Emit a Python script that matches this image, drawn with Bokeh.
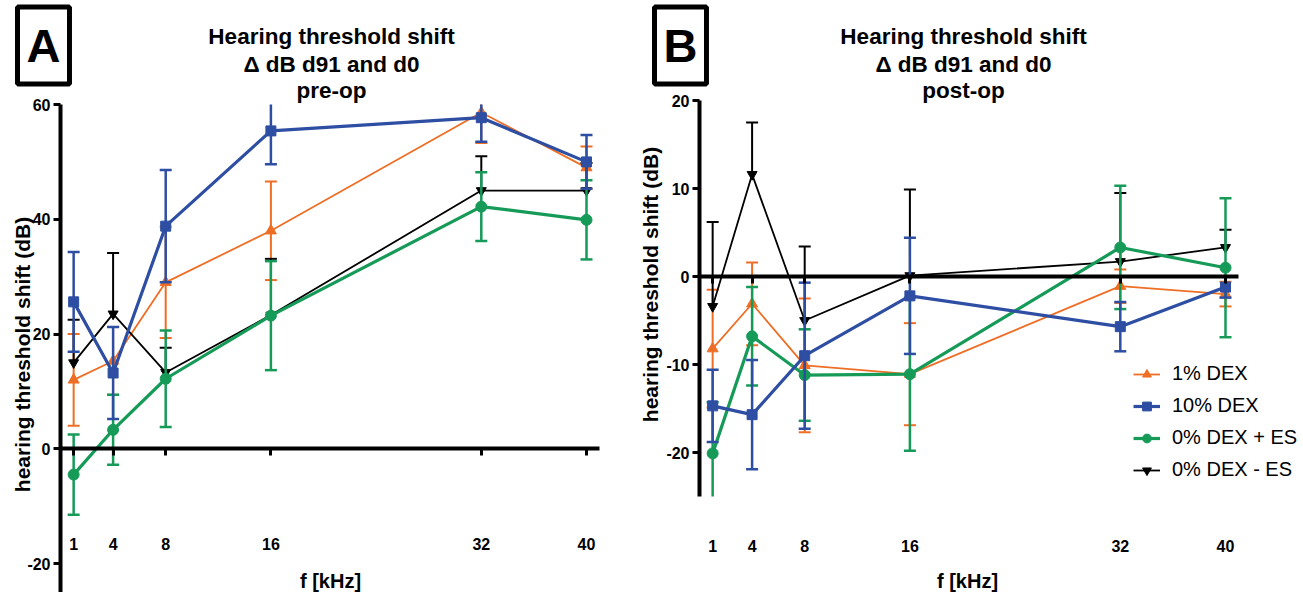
import math
from bokeh.plotting import figure
from bokeh.layouts import row
from bokeh.models import Label, FixedTicker, Legend, LegendItem, ColumnDataSource, LinearAxis
from bokeh.embed import file_html
from bokeh.resources import INLINE

# ---------------- data ----------------
freq = [1, 4, 8, 16, 32, 40]
freq_labels = ["1", "4", "8", "16", "32", "40"]
series_names = ["1% DEX", "10% DEX", "0% DEX + ES", "0% DEX - ES"]

# Panel A: pre-op (mean, SEM)
a_dex1 = [12.0, 15.3, 29.0, 38.0, 58.6, 49.0]
a_dex1_err = [8.0, 5.9, 9.7, 8.6, 5.3, 3.7]
a_dex10 = [25.6, 13.2, 38.8, 55.4, 57.7, 50.0]
a_dex10_err = [8.7, 8.0, 9.8, 5.8, 4.2, 4.7]
a_es_pos = [-4.5, 3.3, 12.2, 23.2, 42.2, 39.9]
a_es_pos_err = [7.0, 6.1, 8.4, 9.5, 6.0, 6.9]
a_es_neg = [15.0, 23.5, 13.3, 23.3, 45.0, 45.0]
a_es_neg_err = [7.5, 10.6, 4.3, 9.8, 6.0, 4.8]

# Panel B: post-op (mean, SEM)
b_dex1 = [-8.2, -3.1, -10.1, -11.1, -1.1, -2.0]
b_dex1_err = [6.7, 4.7, 7.6, 5.8, 1.9, 1.4]
b_dex10 = [-14.7, -15.7, -9.0, -2.2, -5.7, -1.2]
b_dex10_err = [4.1, 6.2, 8.3, 6.6, 2.8, 1.2]
b_es_pos = [-20.1, -6.8, -11.2, -11.1, 3.3, 1.0]
b_es_pos_err = [5.8, 5.6, 5.2, 8.7, 7.0, 7.9]
b_es_neg = [-3.4, 11.6, -5.0, 0.1, 1.7, 3.3]
b_es_neg_err = [9.6, 5.9, 8.4, 9.8, 7.8, 2.0]

a_yticks = [60, 40, 20, 0, -20]
b_yticks = [20, 10, 0, -10, -20]

# ---------------- style ----------------
FONT = "Liberation Sans"
ORANGE = "#EF6E25"
BLUE = "#2D4EA2"
GREEN = "#169A58"
BLACK = "#000000"

styles = [
    dict(color=ORANGE, marker="triangle", size=11, lw=1.8, elw=2.0, both=True),
    dict(color=BLUE, marker="square", size=10, lw=3.2, elw=2.5, both=True),
    dict(color=GREEN, marker="circle", size=11, lw=3.2, elw=2.5, both=True),
    dict(color=BLACK, marker="inverted_triangle", size=10, lw=1.8, elw=2.0, both=False),
]
draw_order = [0, 3, 2, 1]

XS = 13.15  # px per kHz
HEIGHT = 592


def make_panel(width, org_x, top_px, y_top, y_px, axis_min, yticks,
               series, letter, title3, letter_c, title_cx, ylab_c, tick_y_px,
               xlab_c, legend=False):
    # frame covers whole figure; org_x = pixel of x=0, top_px = pixel of y_top
    x0 = -org_x / XS
    x1 = (width - org_x) / XS
    y1 = y_top + top_px / y_px
    y0 = y_top - (HEIGHT - top_px) / y_px
    p = figure(width=width, height=HEIGHT, output_backend="svg",
               toolbar_location=None, x_axis_location=None, y_axis_location=None,
               x_range=(x0, x1), y_range=(y0, y1), min_border=0)
    p.outline_line_color = None
    p.xgrid.visible = False
    p.ygrid.visible = False
    p.background_fill_color = "white"
    p.border_fill_color = "white"

    def dx(px):
        return (px - org_x) / XS

    def dy(py):
        return y_top - (py - top_px) / y_px

    # y axis at x = 0
    yax = LinearAxis(fixed_location=0, ticker=FixedTicker(ticks=yticks),
                     bounds=(axis_min, y_top))
    yax.major_label_overrides = {t: str(t) for t in yticks}
    yax.axis_line_width = 4
    yax.major_tick_line_width = 3
    yax.major_tick_out = 7
    yax.major_tick_in = 0
    yax.minor_tick_line_color = None
    yax.major_label_text_font = FONT
    yax.major_label_text_font_style = "bold"
    yax.major_label_text_font_size = "16px"
    yax.major_label_text_color = "black"
    yax.major_label_standoff = 3
    p.add_layout(yax, "left")

    # x axis at y = 0
    tick_pos = -dy(tick_y_px) * y_px  # px below axis line
    xax = LinearAxis(fixed_location=0, ticker=FixedTicker(ticks=freq), bounds=(0, 41))
    xax.major_label_overrides = {f: s for f, s in zip(freq, freq_labels)}
    xax.axis_line_width = 4
    xax.major_tick_line_width = 3
    xax.major_tick_out = 7
    xax.major_tick_in = 0
    xax.minor_tick_line_color = None
    xax.major_label_text_font = FONT
    xax.major_label_text_font_style = "bold"
    xax.major_label_text_font_size = "16px"
    xax.major_label_text_color = "black"
    xax.major_label_standoff = int(round(tick_pos - 7 - 9))
    p.add_layout(xax, "below")

    p.add_layout(Label(x=dx(xlab_c[0]), y=dy(xlab_c[1]), text="f [kHz]",
                       text_font=FONT, text_font_style="bold", text_font_size="20px",
                       text_color="black",
                       text_align="center", text_baseline="middle"))
    p.add_layout(Label(x=dx(ylab_c[0]), y=dy(ylab_c[1]),
                       text="hearing threshold shift (dB)", angle=math.pi / 2,
                       text_font=FONT, text_font_style="bold", text_font_size="21px",
                       text_color="black",
                       text_align="center", text_baseline="middle"))
    for txt, base in zip(["Hearing threshold shift", "\u0394 dB d91 and d0", title3],
                         [36, 63.5, 90]):
        p.add_layout(Label(x=dx(title_cx), y=dy(base), text=txt,
                           text_font=FONT, text_font_style="bold", text_font_size="22.5px",
                           text_color="black",
                           text_align="center", text_baseline="middle"))
    p.add_layout(Label(x=dx(letter_c[0]), y=dy(letter_c[1]), text=letter,
                       text_font=FONT, text_font_style="bold", text_font_size="47px",
                       text_color="black",
                       text_align="center", text_baseline="middle",
                       border_line_color="black", border_line_width=5,
                       padding=(9, 12)))

    renderers = {}
    for i in draw_order:
        vals, errs = series[i]
        st = styles[i]
        upper_raw = [v + e for v, e in zip(vals, errs)]
        if st["both"]:
            lower_raw = [v - e for v, e in zip(vals, errs)]
        else:
            lower_raw = list(vals)
        # error bars are cut at the axis limits (no cap where cut)
        lower = [max(l, axis_min) for l in lower_raw]
        upper = [min(u, y_top) for u in upper_raw]
        p.segment(x0=freq, y0=lower, x1=freq, y1=upper,
                  line_color=st["color"], line_width=st["elw"])
        ux = [f for f, u in zip(freq, upper_raw) if u <= y_top]
        uy = [u for u in upper_raw if u <= y_top]
        p.scatter(x=ux, y=uy, marker="dash", size=12,
                  line_color=st["color"], line_width=st["elw"])
        if st["both"]:
            lx = [f for f, l in zip(freq, lower_raw) if l >= axis_min]
            ly = [l for l in lower_raw if l >= axis_min]
            p.scatter(x=lx, y=ly, marker="dash", size=12,
                      line_color=st["color"], line_width=st["elw"])
        src = ColumnDataSource(dict(x=freq, y=vals))
        lr = p.line("x", "y", source=src, line_color=st["color"], line_width=st["lw"])
        sr = p.scatter("x", "y", source=src, marker=st["marker"], size=st["size"],
                       fill_color=st["color"], line_color=st["color"])
        renderers[i] = (lr, sr)

    if legend:
        items = [LegendItem(label=series_names[i], renderers=list(renderers[i]))
                 for i in range(4)]
        leg_h = 4 * 22 + 3 * 9
        lg = Legend(items=items, location=(1133 - 640, HEIGHT - 366 - leg_h),
                    background_fill_alpha=0, border_line_color=None,
                    label_text_font=FONT, label_text_font_size="20px",
                    label_text_color="black",
                    label_text_baseline="middle",
                    glyph_width=27, glyph_height=22, label_height=22,
                    spacing=9, padding=0, margin=0, label_standoff=12)
        p.add_layout(lg)
    return p


pA = make_panel(640, 60, 104, 60, 5.7375, -25.05, a_yticks,
                [(a_dex1, a_dex1_err), (a_dex10, a_dex10_err),
                 (a_es_pos, a_es_pos_err), (a_es_neg, a_es_neg_err)],
                "A", "pre-op", (43, 45), 331, (22, 354), 546, (330, 580))

pB = make_panel(663, 59, 100, 20, 8.8, -25, b_yticks,
                [(b_dex1, b_dex1_err), (b_dex10, b_dex10_err),
                 (b_es_pos, b_es_pos_err), (b_es_neg, b_es_neg_err)],
                "B", "post-op", (680 - 640, 45), 323, (650 - 640, 284), 548,
                (967 - 640, 580), legend=True)

layout = row(pA, pB, spacing=0)
open("out.html", "w").write(file_html(layout, INLINE))
